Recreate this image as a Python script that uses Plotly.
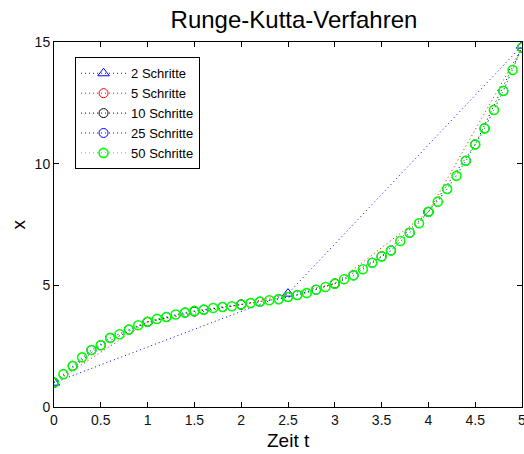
import plotly.graph_objects as go

# Data
t2 = [0, 2.5, 5]
x2 = [1.0, 4.66, 14.85]

t5 = [0, 1, 2, 3, 4, 5]
x5 = [1.0, 3.50, 4.21, 5.07, 8.02, 14.77]

t10 = [0, 0.5, 1, 1.5, 2, 2.5, 3, 3.5, 4, 4.5, 5]
x10 = [1.0, 2.54, 3.50, 3.92, 4.21, 4.52, 5.07, 6.19, 8.02, 10.79, 14.77]

t25 = [0, 0.2, 0.4, 0.6, 0.8, 1.0, 1.2, 1.4, 1.6, 1.8, 2.0, 2.2, 2.4, 2.6,
       2.8, 3.0, 3.2, 3.4, 3.6, 3.8, 4.0, 4.2, 4.4, 4.6, 4.8, 5.0]
x25 = [1.0, 1.69, 2.34, 2.84, 3.18, 3.50, 3.70, 3.88, 4.00, 4.11, 4.21, 4.33,
       4.43, 4.60, 4.82, 5.07, 5.41, 5.93, 6.43, 7.16, 8.02, 8.96, 10.12,
       11.45, 12.99, 14.77]

t50 = [round(i * 0.1, 1) for i in range(51)]
x50 = [1.0, 1.35, 1.69, 2.04, 2.34, 2.54, 2.84, 2.99, 3.18, 3.36,
       3.50, 3.62, 3.70, 3.80, 3.88, 3.95, 4.00, 4.07, 4.11, 4.14,
       4.21, 4.27, 4.33, 4.39, 4.43, 4.52, 4.60, 4.68, 4.82, 4.93,
       5.07, 5.25, 5.41, 5.66, 5.93, 6.19, 6.43, 6.82, 7.16, 7.55,
       8.02, 8.44, 8.96, 9.50, 10.12, 10.79, 11.45, 12.21, 12.99, 13.85,
       14.77]

xticks = [0, 0.5, 1, 1.5, 2, 2.5, 3, 3.5, 4, 4.5, 5]
xticklabels = ["0", "0.5", "1", "1.5", "2", "2.5", "3", "3.5", "4", "4.5", "5"]
yticks = [0, 5, 10, 15]

series = [
    ("2 Schritte", t2, x2, "#0000ff", "triangle-up-open", 10, 1),
    ("5 Schritte", t5, x5, "#ff0000", "circle-open", 9, 1),
    ("10 Schritte", t10, x10, "#000000", "circle-open", 9, 1),
    ("25 Schritte", t25, x25, "#0000ff", "circle-open", 9, 1),
    ("50 Schritte", t50, x50, "#00ff00", "circle-open", 9, 1.6),
]

FONT = "Liberation Sans, Arial, sans-serif"

fig = go.Figure()
for name, t, x, col, sym, sz, lw in series:
    fig.add_trace(go.Scatter(
        x=t, y=x, name=name, mode="lines+markers",
        line=dict(color=col, width=1, dash="1px,3px"),
        marker=dict(symbol=sym, size=sz, color=col, line=dict(color=col, width=lw)),
    ))

axis_common = dict(
    showgrid=False, zeroline=False, showline=True, linecolor="black",
    linewidth=1, mirror="ticks", ticks="inside", ticklen=5,
    tickcolor="black", tickfont=dict(family=FONT, size=14, color="#111"),
    ticklabeloverflow="allow",
)

W, H = 524, 454
L, R, T, B = 54, 2, 42, 47
PW, PH = W - L - R, H - T - B

fig.update_layout(
    width=W, height=H,
    margin=dict(l=L, r=R, t=T, b=B, autoexpand=False),
    paper_bgcolor="white", plot_bgcolor="white",
    title=dict(text="Runge-Kutta-Verfahren", x=294 / W, xanchor="center",
               y=1 - 20 / H, yanchor="middle",
               font=dict(family=FONT, size=24, color="black")),
    xaxis=dict(range=[0, 5], tickvals=xticks, ticktext=xticklabels, **axis_common),
    yaxis=dict(range=[0, 15], tickvals=yticks, **axis_common),
    legend=dict(x=0.045, y=0.958, xanchor="left", yanchor="top",
                bgcolor="white", bordercolor="black", borderwidth=1,
                font=dict(family=FONT, size=13, color="black"),
                tracegroupgap=0, itemwidth=45),
    showlegend=True,
    annotations=[
        dict(text="Zeit t", xref="paper", yref="paper", x=0.5, y=-33 / PH,
             xanchor="center", yanchor="middle", showarrow=False,
             font=dict(family=FONT, size=19, color="black")),
        dict(text="x", xref="paper", yref="paper", x=-36 / PW, y=0.5,
             xanchor="center", yanchor="middle", showarrow=False, textangle=-90,
             font=dict(family=FONT, size=19, color="black")),
    ],
)

fig.write_html(
    "out.html",
    config={"displayModeBar": False},
    post_script="document.body.style.margin='0';document.body.style.overflow='hidden';",
)
